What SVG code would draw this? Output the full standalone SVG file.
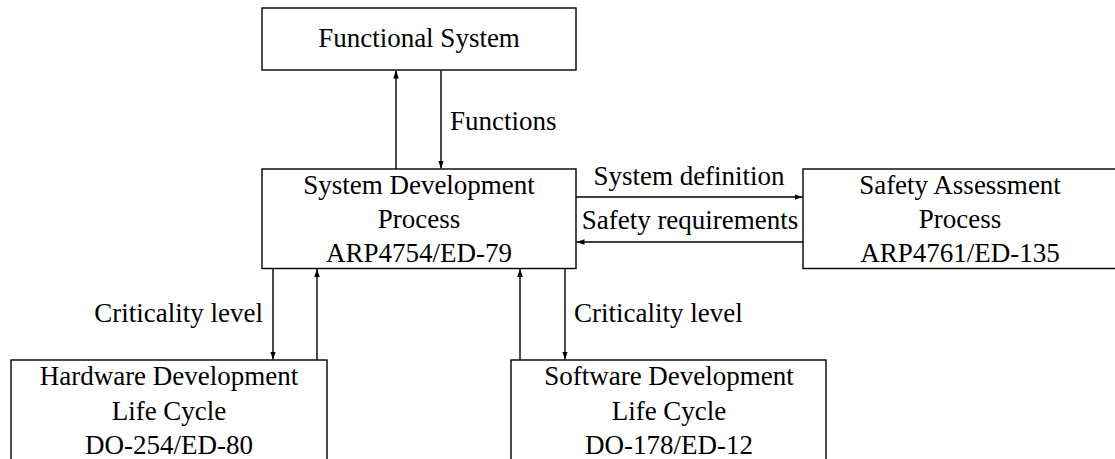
<svg xmlns="http://www.w3.org/2000/svg" width="1115" height="459" viewBox="0 0 1115 459">
  <style>
    .box { fill: #ffffff; stroke: #000000; stroke-width: 1.4; }
    .lbl { font-family: "Liberation Serif", "Times New Roman", serif; font-size: 27px; fill: #000000; }
    .mid { text-anchor: middle; }
    .end { text-anchor: end; }
    .wire { fill: none; stroke: #000000; stroke-width: 1.4; marker-end: url(#tip); }
  </style>
  <defs>
    <marker id="tip" viewBox="0 0 10 10" refX="10" refY="5" markerWidth="8" markerHeight="8" markerUnits="userSpaceOnUse" orient="auto">
      <path d="M0,1.5 L10,5 L0,8.5 Z" fill="#000000"/>
    </marker>
  </defs>
  <rect width="1115" height="459" fill="#ffffff"/>

  <g id="functional-system">
    <rect class="box" x="262" y="8" width="314" height="62"/>
    <text class="lbl mid" x="419" y="47">Functional System</text>
  </g>

  <g id="system-development">
    <rect class="box" x="262" y="169" width="314" height="99.5"/>
    <text class="lbl mid" x="419" y="194">System Development</text>
    <text class="lbl mid" x="419" y="228">Process</text>
    <text class="lbl mid" x="419" y="262">ARP4754/ED-79</text>
  </g>

  <g id="safety-assessment">
    <rect class="box" x="803" y="169" width="320" height="99.5"/>
    <text class="lbl mid" x="960" y="194">Safety Assessment</text>
    <text class="lbl mid" x="960" y="228">Process</text>
    <text class="lbl mid" x="960" y="262">ARP4761/ED-135</text>
  </g>

  <g id="hardware-development">
    <rect class="box" x="11" y="360" width="316" height="120"/>
    <text class="lbl mid" x="169" y="385">Hardware Development</text>
    <text class="lbl mid" x="169" y="420">Life Cycle</text>
    <text class="lbl mid" x="169" y="454">DO-254/ED-80</text>
  </g>

  <g id="software-development">
    <rect class="box" x="511" y="360" width="315" height="120"/>
    <text class="lbl mid" x="669" y="385">Software Development</text>
    <text class="lbl mid" x="669" y="420">Life Cycle</text>
    <text class="lbl mid" x="669" y="454">DO-178/ED-12</text>
  </g>

  <g id="connectors">
    <line class="wire" x1="396" y1="169" x2="396" y2="70.5"/>
    <line class="wire" x1="441" y1="70.5" x2="441" y2="168.5"/>
    <text class="lbl" x="450" y="130">Functions</text>

    <line class="wire" x1="576" y1="197" x2="802.5" y2="197"/>
    <text class="lbl mid" x="689" y="185">System definition</text>
    <line class="wire" x1="803" y1="242" x2="576.5" y2="242"/>
    <text class="lbl mid" x="690" y="229">Safety requirements</text>

    <line class="wire" x1="273" y1="268.5" x2="273" y2="359.5"/>
    <line class="wire" x1="317" y1="360" x2="317" y2="269"/>
    <text class="lbl end" x="263" y="322">Criticality level</text>

    <line class="wire" x1="520" y1="360" x2="520" y2="269"/>
    <line class="wire" x1="565" y1="268.5" x2="565" y2="359.5"/>
    <text class="lbl" x="574" y="322">Criticality level</text>
  </g>
</svg>
